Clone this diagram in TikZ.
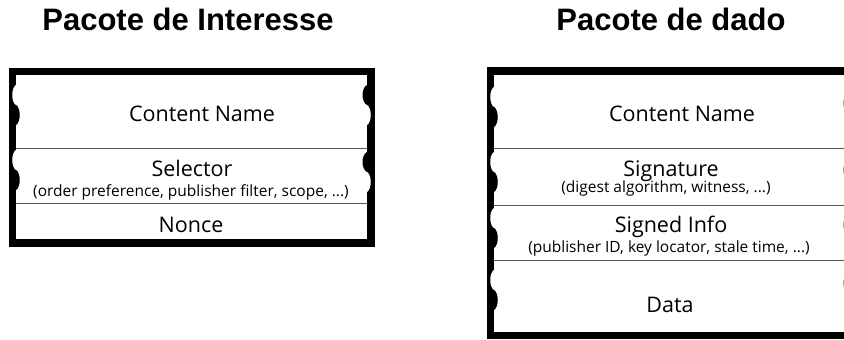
\documentclass[tikz,border=0pt]{standalone}
\usepackage{fontspec}
\setmainfont{Open Sans}
\newfontfamily\headfont{Liberation Sans}
\usetikzlibrary{positioning}

\tikzstyle{title} = [font=\headfont\bfseries\fontsize{31}{36}\selectfont, inner sep=0, anchor=base]
\tikzstyle{field} = [font=\fontsize{21.5}{25}\selectfont, inner sep=0, anchor=base]
\tikzstyle{note} = [font=\fontsize{15.5}{18}\selectfont, inner sep=0, anchor=base]
\tikzstyle{frame} = [line width=7.5pt]
\tikzstyle{sep} = [draw=black!65, line width=1pt]
\tikzset{x=1pt, y=1pt}

% torn edge on the inside of a frame side: x of the inner edge, y of the middle
\newcommand{\tornleft}[2]{%
  \fill[white] (#1,#2) .. controls (#1-5,#2+3) and (#1-5,#2+17) .. (#1,#2+20) -- cycle;
  \fill[black] (#1,#2) .. controls (#1+5,#2-3) and (#1+5,#2-17) .. (#1,#2-20) -- cycle;}
\newcommand{\tornright}[2]{%
  \fill[black] (#1,#2) .. controls (#1-6,#2+3) and (#1-6,#2+17) .. (#1,#2+20) -- cycle;
  \fill[white] (#1,#2) .. controls (#1+5,#2-3) and (#1+5,#2-17) .. (#1,#2-20) -- cycle;}

\begin{document}
\begin{tikzpicture}
\clip (0,0) rectangle (844,340);

\node[title] (tint) at (188,309) {Pacote de Interesse};
\node[title] (tdat) at (671,309) {Pacote de dado};

% interest packet
\draw[frame] (12.5,268.5) rectangle (371,97);
\draw[sep] (16,191) -- (367,191);
\draw[sep] (16,136) -- (367,136);
\tornleft{16}{235}
\tornleft{16}{170}
\tornright{367}{235}
\tornright{367}{168}

\node[field] (iname) at (202,218) {Content Name};
\node[field] (isel) at (192,163) {Selector};
\node[note] (iselx) at (191,143) {(order preference, publisher filter, scope, ...)};
\node[field] (inonce) at (191,107) {Nonce};

% data packet
\draw[frame] (490.5,269) rectangle (851.75,4.5);
\draw[sep] (494,191) -- (848,191);
\draw[sep] (494,134) -- (848,134);
\draw[sep] (494,79) -- (848,79);
\tornleft{494}{233}
\tornleft{494}{168}
\tornleft{494}{112}
\tornleft{494}{50}
\tornright{848}{227}
\tornright{848}{160}
\tornright{848}{105}
\tornright{848}{47}

\node[field] (dname) at (682,218) {Content Name};
\node[field] (dsig) at (671,163) {Signature};
\node[note] (dsigx) at (666,147) {(digest algorithm, witness, ...)};
\node[field] (dinfo) at (671,107) {Signed Info};
\node[note] (dinfox) at (669,87) {(publisher ID, key locator, stale time, ...)};
\node[field] (ddata) at (670,27) {Data};
\end{tikzpicture}
\end{document}
